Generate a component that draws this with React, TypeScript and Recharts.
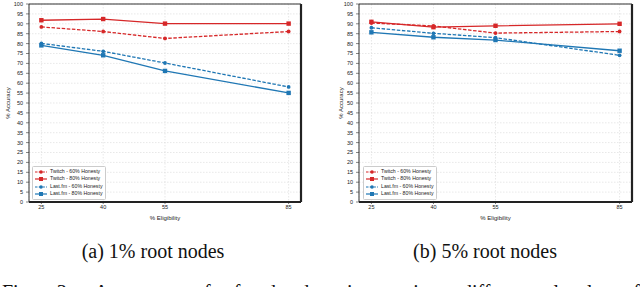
import React from "react";
import { CartesianGrid, Line, LineChart, ReferenceLine, XAxis, YAxis } from "recharts";

const eligibility = [25, 40, 55, 85];
const yTicks = [0, 5, 10, 15, 20, 25, 30, 35, 40, 45, 50, 55, 60, 65, 70, 75, 80, 85, 90, 95, 100];

// (a) 1% root nodes
const twitch60a = [88.4, 86.1, 82.6, 86.1];
const twitch80a = [91.8, 92.4, 90.1, 90.1];
const lastfm60a = [80.1, 76.1, 70.2, 58.1];
const lastfm80a = [79.1, 74.1, 66.2, 55.1];

// (b) 5% root nodes
const twitch60b = [90.4, 88.9, 85.3, 86.1];
const twitch80b = [91.0, 88.3, 89.0, 90.0];
const lastfm60b = [88.0, 85.2, 83.0, 74.1];
const lastfm80b = [85.7, 83.2, 81.8, 76.4];

const RED = "#d62728";
const BLUE = "#1f77b4";

const series = [
  { key: "t60", name: "Twitch - 60% Honesty", color: RED, dashed: true },
  { key: "t80", name: "Twitch - 80% Honesty", color: RED, dashed: false },
  { key: "l60", name: "Last.fm - 60% Honesty", color: BLUE, dashed: true },
  { key: "l80", name: "Last.fm - 80% Honesty", color: BLUE, dashed: false },
];

const buildRows = (t60: number[], t80: number[], l60: number[], l80: number[]) =>
  eligibility.map((e, i) => ({ e, t60: t60[i], t80: t80[i], l60: l60[i], l80: l80[i] }));

const rowsA = buildRows(twitch60a, twitch80a, lastfm60a, lastfm80a);
const rowsB = buildRows(twitch60b, twitch80b, lastfm60b, lastfm80b);

const tickFont = { fill: "#222", fontSize: 5.5, fontFamily: "Liberation Sans" };

const squareDot = (color: string) => (props: any) => (
  <rect
    key={`sq-${props.index}`}
    x={props.cx - 2.2}
    y={props.cy - 2.2}
    width={4.4}
    height={4.4}
    fill={color}
  />
);

function LegendBox({ left, top }: { left: number; top: number }) {
  return (
    <div
      style={{
        position: "absolute",
        left,
        top,
        background: "rgba(255,255,255,0.9)",
        border: "0.6px solid #ccc",
        borderRadius: 1.5,
        padding: "1px 3px 1px 2px",
        fontFamily: "Liberation Sans",
        fontSize: 5.2,
        color: "#222",
        lineHeight: "7.4px",
      }}
    >
      {series.map((s) => (
        <div key={s.key} style={{ display: "flex", alignItems: "center", whiteSpace: "nowrap" }}>
          <svg width={12} height={6} style={{ marginRight: 3 }}>
            <line
              x1={0}
              y1={3}
              x2={12}
              y2={3}
              stroke={s.color}
              strokeWidth={1.2}
              strokeDasharray={s.dashed ? "2.5 1.2" : undefined}
            />
            {s.dashed ? (
              <circle cx={6} cy={3} r={1.8} fill={s.color} />
            ) : (
              <rect x={4} y={1} width={4} height={4} fill={s.color} />
            )}
          </svg>
          {s.name}
        </div>
      ))}
    </div>
  );
}

function Panel({ data, yLabelX, right }: { data: any[]; yLabelX: number; right: number }) {
  return (
    <LineChart width={310} height={225} data={data} margin={{ top: 4, right, left: 0, bottom: 0 }}>
      <CartesianGrid stroke="#d9d9d9" strokeDasharray="1.5 1.5" strokeWidth={0.6} />
      <XAxis
        dataKey="e"
        type="number"
        domain={[22, 88]}
        ticks={eligibility}
        height={23}
        tick={tickFont}
        tickSize={2}
        tickMargin={1}
        axisLine={{ stroke: "#222", strokeWidth: 2 }}
        tickLine={{ stroke: "#222", strokeWidth: 0.6 }}
        label={{
          value: "% Eligibility",
          position: "insideBottom",
          offset: 5,
          style: { fontSize: 6, fontFamily: "Liberation Sans", fill: "#222" },
        }}
      />
      <YAxis
        domain={[0, 100]}
        ticks={yTicks}
        width={29}
        tick={tickFont}
        tickSize={3}
        tickMargin={3}
        interval={0}
        axisLine={{ stroke: "#333", strokeWidth: 1 }}
        tickLine={{ stroke: "#333", strokeWidth: 0.6 }}
        label={(p: any) => {
          const cy = p.viewBox.y + p.viewBox.height / 2;
          return (
            <text
              x={yLabelX}
              y={cy}
              transform={`rotate(-90 ${yLabelX} ${cy})`}
              textAnchor="middle"
              dominantBaseline="central"
              style={{ fontSize: 6, fontFamily: "Liberation Sans", fill: "#222" }}
            >
              % Accuracy
            </text>
          );
        }}
      />
      <ReferenceLine x={88} stroke="#222" strokeWidth={2.2} />
      <ReferenceLine y={100} stroke="#333" strokeWidth={1} />
      {series.map((s) => (
        <Line
          key={s.key}
          dataKey={s.key}
          name={s.name}
          stroke={s.color}
          strokeWidth={1.3}
          strokeDasharray={s.dashed ? "3.5 1.6" : undefined}
          dot={s.dashed ? { r: 1.9, fill: s.color, stroke: s.color, strokeWidth: 0 } : squareDot(s.color)}
          activeDot={false}
          isAnimationActive={false}
        />
      ))}
    </LineChart>
  );
}

const captionStyle: React.CSSProperties = {
  position: "absolute",
  fontFamily: "Liberation Serif",
  fontSize: 20,
  color: "#111",
  whiteSpace: "nowrap",
  transform: "translateX(-50%)",
};

export default function App() {
  return (
    <div
      style={{
        position: "absolute",
        left: 0,
        top: 0,
        width: 640,
        height: 287,
        overflow: "hidden",
        background: "#fff",
      }}
    >
      <div style={{ position: "absolute", left: 0, top: 0 }}>
        <Panel data={rowsA} yLabelX={8} right={9} />
        <LegendBox left={32} top={166} />
      </div>
      <div style={{ position: "absolute", left: 330, top: 0 }}>
        <Panel data={rowsB} yLabelX={11} right={8} />
        <LegendBox left={33} top={166} />
      </div>
      <div style={{ ...captionStyle, left: 153, top: 240 }}>(a) 1% root nodes</div>
      <div style={{ ...captionStyle, left: 485, top: 240 }}>(b) 5% root nodes</div>
      <div
        style={{
          position: "absolute",
          left: 2,
          top: 281,
          width: 638,
          fontFamily: "Liberation Serif",
          fontSize: 20,
          color: "#111",
          textAlign: "justify",
          textAlignLast: "justify",
        }}
      >
        Fig. 3: Accuracy of fraud detection using different levels of
      </div>
    </div>
  );
}
